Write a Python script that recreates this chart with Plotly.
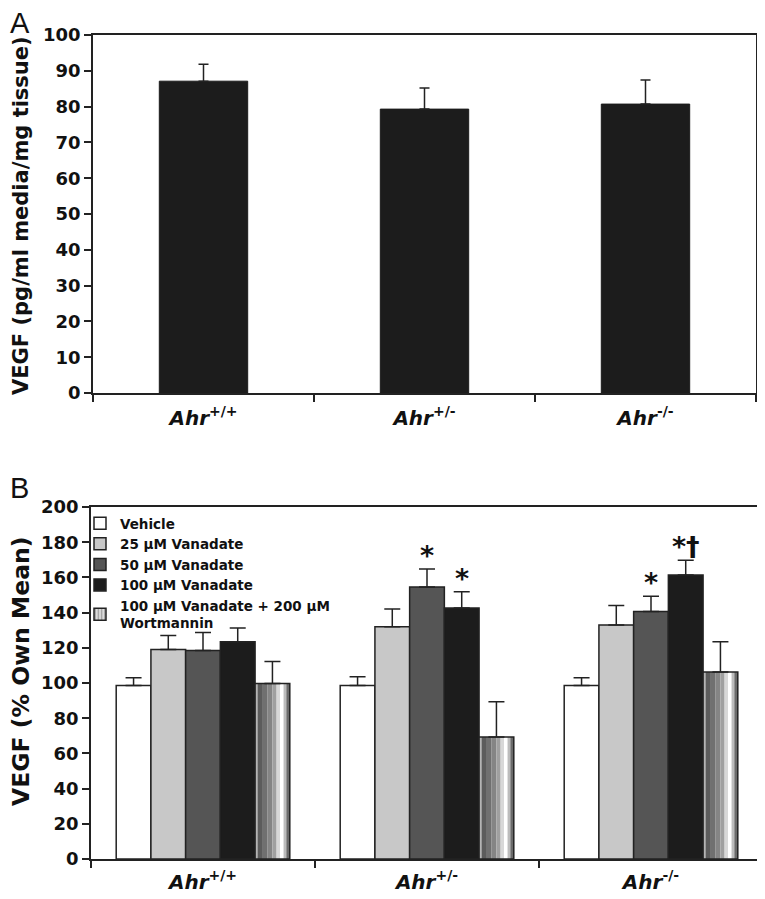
import plotly.graph_objects as go

# ---------------- data ----------------
genotypes = ["<i>Ahr</i><sup>+/+</sup>", "<i>Ahr</i><sup>+/-</sup>", "<i>Ahr</i><sup>-/-</sup>"]

# Panel A
vegf_a = [87.1, 79.3, 80.7]
vegf_a_err = [4.7, 5.9, 6.7]

# Panel B
series_names = ["Vehicle", "25 μM Vanadate", "50 μM Vanadate", "100 μM Vanadate",
                "100 μM Vanadate + 200 μM<br>Wortmannin"]
vehicle = [98.6, 98.6, 98.6]
vehicle_err = [4.4, 5.0, 4.4]
van25 = [119.0, 132.0, 133.0]
van25_err = [8.0, 10.0, 11.0]
van50 = [118.4, 154.6, 140.6]
van50_err = [10.3, 10.2, 8.7]
van100 = [123.5, 142.6, 161.4]
van100_err = [7.7, 9.3, 8.3]
wort = [99.7, 69.3, 106.2]
wort_err = [12.5, 20.0, 17.3]

# significance marks: (genotype index, series index, text)
marks = [(1, 2, "*"), (1, 3, "*"), (2, 2, "*"), (2, 3, "*†")]

# ---------------- style ----------------
FONT = "DejaVu Sans, Liberation Sans, Arial, sans-serif"
WIN_W, WIN_H = 765, 899
OFF = 8  # page body margin
W, H = WIN_W - OFF, WIN_H - OFF


def px(x):
    return (x - OFF) / W


def py(y):
    return 1 - (y - OFF) / H


INK = "#222222"
colors = ["#ffffff", "#c8c8c8", "#555555", "#1c1c1c"]
strip_fracs = [(0.00, 0.07, "#b4b4b4"), (0.07, 0.20, "#5c5c5c"), (0.20, 0.35, "#707070"),
               (0.35, 0.50, "#858585"), (0.50, 0.62, "#a0a0a0"), (0.62, 0.72, "#d8d8d8"),
               (0.72, 0.82, "#ffffff"), (0.82, 0.90, "#bcbcbc"), (0.90, 1.00, "#6a6a6a")]

fig = go.Figure()

# Panel A bars
fig.add_trace(go.Bar(
    x=genotypes, y=vegf_a, width=0.4, xaxis="x", yaxis="y",
    marker=dict(color="#1c1c1c", line=dict(color="#1c1c1c", width=1)),
    error_y=dict(type="data", array=vegf_a_err, arrayminus=[0] * 3, symmetric=False,
                 color=INK, thickness=1.5, width=5),
    showlegend=False,
))

# Panel B bars
bw = 0.155
values = [vehicle, van25, van50, van100, wort]
errs = [vehicle_err, van25_err, van50_err, van100_err, wort_err]
for i in range(4):
    fig.add_trace(go.Bar(
        x=genotypes, y=values[i], width=bw, offset=(i - 2.5) * bw,
        xaxis="x2", yaxis="y2", name=series_names[i],
        marker=dict(color=colors[i], line=dict(color=INK, width=1.5)),
        error_y=dict(type="data", array=errs[i], arrayminus=[0] * 3, symmetric=False,
                     color=INK, thickness=1.5, width=8),
        showlegend=True, legendrank=i + 1,
    ))

# wortmannin: shaded strips then outline
for a, b, c in strip_fracs:
    fig.add_trace(go.Bar(
        x=genotypes, y=wort, width=bw * (b - a), offset=1.5 * bw + bw * a,
        xaxis="x2", yaxis="y2", marker=dict(color=c, line=dict(width=0)),
        showlegend=False, hoverinfo="skip",
    ))
fig.add_trace(go.Bar(
    x=genotypes, y=wort, width=bw, offset=1.5 * bw,
    xaxis="x2", yaxis="y2", name=series_names[4],
    marker=dict(color="rgba(0,0,0,0)", line=dict(color=INK, width=1.5)),
    error_y=dict(type="data", array=wort_err, arrayminus=[0] * 3, symmetric=False,
                 color=INK, thickness=1.5, width=8),
    showlegend=False,
))
# legend entry for wortmannin
fig.add_trace(go.Bar(
    x=[None], y=[None], xaxis="x2", yaxis="y2", name=series_names[4],
    marker=dict(color="#9c9c9c", line=dict(color=INK, width=1.5),
                pattern=dict(shape="|", fgcolor="#555555", bgcolor="#dddddd", size=4, solidity=0.4)),
    showlegend=True, legendrank=5,
))

annotations = []
for g, s, txt in marks:
    annotations.append(dict(
        x=g + (s - 2) * bw, y=values[s][g] + errs[s][g], xref="x2", yref="y2",
        text=txt, showarrow=False, yanchor="bottom", yshift=-4,
        font=dict(family=FONT, size=27, color="#111", weight="bold"),
    ))

# panel letters and y titles
annotations += [
    dict(x=px(8), y=py(5), xref="paper", yref="paper", xanchor="left", yanchor="top",
         text="A", showarrow=False, font=dict(family="Liberation Sans, Arial", size=29, color="#111")),
    dict(x=px(8), y=py(470), xref="paper", yref="paper", xanchor="left", yanchor="top",
         text="B", showarrow=False, font=dict(family="Liberation Sans, Arial", size=29, color="#111")),
    dict(x=px(21), y=py(216), xref="paper", yref="paper", xanchor="center", yanchor="middle",
         textangle=-90, text="VEGF (pg/ml media/mg tissue)", showarrow=False,
         font=dict(family=FONT, size=21, color="#111", weight="bold")),
    dict(x=px(21), y=py(672), xref="paper", yref="paper", xanchor="center", yanchor="middle",
         textangle=-90, text="VEGF (% Own Mean)", showarrow=False,
         font=dict(family=FONT, size=23.5, color="#111", weight="bold")),
]

tickfont = dict(family=FONT, size=18, color="#111", weight="bold")
xtickfont = dict(family=FONT, size=20, color="#111", weight="bold")

axis_common = dict(showline=True, linecolor=INK, linewidth=1.5, mirror=True,
                   ticks="outside", ticklen=7, tickcolor=INK, tickwidth=1.5,
                   showgrid=False, zeroline=False, automargin=False)

fig.update_layout(
    width=W, height=H,
    margin=dict(l=0, r=0, t=0, b=0),
    paper_bgcolor="white", plot_bgcolor="white",
    barmode="overlay",
    font=dict(family=FONT, color="#111"),
    xaxis=dict(domain=[px(93), px(756)], anchor="y", type="category", range=[-0.5, 2.5],
               tickson="boundaries", tickfont=xtickfont, ticklabelstandoff=6, **axis_common),
    yaxis=dict(domain=[py(393), py(35)], anchor="x", range=[0, 100], dtick=10,
               tickfont=tickfont, **axis_common),
    xaxis2=dict(domain=[px(91), px(763)], anchor="y2", type="category", range=[-0.5, 2.5],
                tickson="boundaries", tickfont=xtickfont, ticklabelstandoff=4, **axis_common),
    yaxis2=dict(domain=[py(859), py(507)], anchor="x2", range=[0, 200], dtick=20,
                tickfont=tickfont, **axis_common),
    legend=dict(x=px(80), y=py(508), xanchor="left", yanchor="top",
                bgcolor="rgba(0,0,0,0)", borderwidth=0, tracegroupgap=0,
                font=dict(family=FONT, size=13.5, color="#111", weight="bold"),
                traceorder="normal", itemclick=False),
    annotations=annotations,
)

fig.write_html("out.html")
